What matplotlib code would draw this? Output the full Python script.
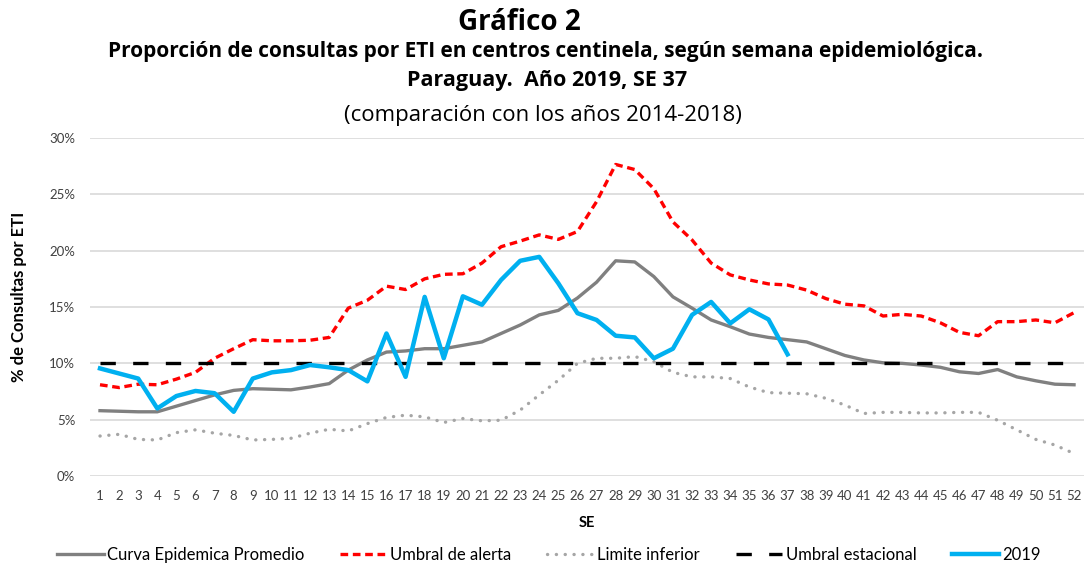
import matplotlib
matplotlib.use("Agg")
import matplotlib.pyplot as plt
from matplotlib.ticker import FuncFormatter

plt.rcParams['font.family'] = ['Lato', 'DejaVu Sans']

semanas = list(range(1, 53))

curva_promedio = [5.8, 5.75, 5.7, 5.7, 6.2, 6.7, 7.2, 7.6, 7.75, 7.7, 7.65, 7.9, 8.2, 9.4,
                  10.3, 11.0, 11.1, 11.3, 11.3, 11.6, 11.9, 12.65, 13.4, 14.3, 14.7, 15.8,
                  17.2, 19.1, 19.0, 17.7, 15.9, 14.9, 13.85, 13.25, 12.6, 12.3, 12.1, 11.9,
                  11.3, 10.7, 10.3, 10.05, 10.0, 9.85, 9.65, 9.25, 9.1, 9.45, 8.8, 8.45,
                  8.15, 8.1]

umbral_alerta = [8.1, 7.85, 8.15, 8.1, 8.6, 9.2, 10.45, 11.3, 12.1, 12.0, 12.0, 12.05, 12.3,
                 14.9, 15.6, 16.85, 16.55, 17.5, 17.9, 17.95, 18.9, 20.35, 20.85, 21.4, 21.0,
                 21.7, 24.35, 27.65, 27.2, 25.5, 22.55, 20.95, 18.9, 17.85, 17.4, 17.05,
                 16.95, 16.5, 15.75, 15.25, 15.1, 14.2, 14.35, 14.2, 13.6, 12.75, 12.45,
                 13.7, 13.7, 13.85, 13.6, 14.5]

limite_inferior = [3.55, 3.7, 3.25, 3.2, 3.85, 4.1, 3.8, 3.6, 3.2, 3.25, 3.35, 3.8, 4.15, 4.0,
                   4.65, 5.2, 5.4, 5.25, 4.75, 5.1, 4.9, 4.95, 5.85, 7.2, 8.5, 10.0, 10.45,
                   10.45, 10.6, 10.15, 9.2, 8.8, 8.8, 8.65, 7.9, 7.4, 7.35, 7.3, 6.9, 6.3,
                   5.55, 5.65, 5.65, 5.6, 5.6, 5.65, 5.65, 4.95, 4.1, 3.25, 2.75, 2.0]

umbral_estacional = [10.0] * 52

semanas_2019 = list(range(1, 38))
valores_2019 = [9.55, 9.1, 8.65, 6.0, 7.1, 7.55, 7.35, 5.7, 8.65, 9.2, 9.4, 9.85, 9.65, 9.4,
                8.4, 12.65, 8.8, 15.9, 10.45, 15.95, 15.2, 17.4, 19.1, 19.45, 17.1, 14.45,
                13.85, 12.45, 12.3, 10.45, 11.3, 14.3, 15.45, 13.55, 14.8, 13.9, 10.8]

fig = plt.figure(figsize=(10.91, 5.69), dpi=100)
ax = fig.add_axes([0.0829, 0.1634, 0.9103, 0.5941])

ax.plot(semanas, curva_promedio, color='#808080', lw=2.4, label='Curva Epidemica Promedio',
        solid_joinstyle='round')
ax.plot(semanas, umbral_alerta, color='#FF0000', lw=2.4, linestyle=(0, (2.3, 1.4)),
        label='Umbral de alerta')
ax.plot(semanas, limite_inferior, color='#A6A6A6', lw=2.4, linestyle=(0, (0.05, 2.6)),
        dash_capstyle='round', label='Limite inferior')
ax.plot(semanas, umbral_estacional, color='black', lw=2.4, linestyle=(0, (4.6, 5.2)),
        label='Umbral estacional')
ax.plot(semanas_2019, valores_2019, color='#00B0F0', lw=3.2, label='2019',
        solid_joinstyle='round')

ax.set_xlim(0.5, 52.5)
ax.set_ylim(0, 30)
ax.set_xticks(semanas)
ax.set_yticks(range(0, 31, 5))
ax.yaxis.set_major_formatter(FuncFormatter(lambda v, p: f'{int(v)}%'))
ax.tick_params(axis='both', length=0, labelsize=9.5, colors='#404040')
ax.tick_params(axis='x', pad=10)
ax.tick_params(axis='y', pad=11)
ax.grid(axis='y', color='#D9D9D9', lw=1.2)
ax.set_axisbelow(True)
for s in ax.spines.values():
    s.set_visible(False)

ax.set_xlabel('SE', fontsize=10.5, fontweight='bold', labelpad=10)
ax.set_ylabel('% de Consultas por ETI', fontsize=12, fontweight='bold')
ax.yaxis.set_label_coords(-0.064, 0.53)

titulo_font = ['Open Sans', 'DejaVu Sans']
fig.text(0.476, 0.961, 'Gráfico 2', ha='center', va='center', fontsize=20,
         fontweight='bold', family=titulo_font)
fig.text(0.5, 0.909, 'Proporción de consultas por ETI en centros centinela, según semana epidemiológica.',
         ha='center', va='center', fontsize=15, fontweight='bold', family=titulo_font)
fig.text(0.501, 0.859, 'Paraguay.  Año 2019, SE 37', ha='center', va='center',
         fontsize=15.5, fontweight='bold', family=titulo_font)
fig.text(0.498, 0.797, '(comparación con los años 2014-2018)', ha='center', va='center',
         fontsize=16, family=titulo_font)

fig.legend(loc='center', bbox_to_anchor=(0.503, 0.025), ncol=5, frameon=False,
           fontsize=12, handlelength=2.8, handletextpad=0.2, columnspacing=2.15)

fig.savefig('out.png', dpi=100)
